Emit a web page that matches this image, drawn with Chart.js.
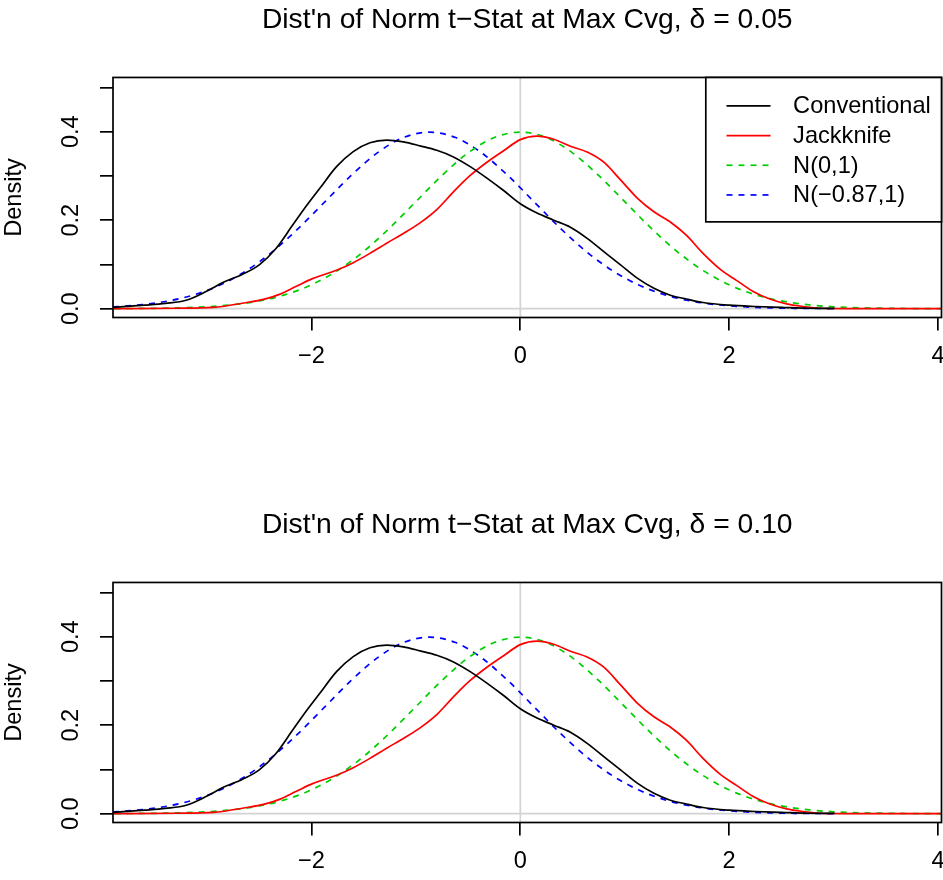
<!DOCTYPE html>
<html>
<head>
<meta charset="utf-8">
<script src="https://cdn.jsdelivr.net/npm/chart.js@4.4.1/dist/chart.umd.min.js"></script>
<style>
  html, body { margin: 0; padding: 0; background: #fff; overflow: hidden; }
  #wrap { position: relative; width: 943px; height: 880px; overflow: hidden; background: #fff; }
  canvas { position: absolute; left: 0; }
</style>
</head>
<body>
<div id="wrap">
  <canvas id="c1" width="943" height="440" style="top:0px"></canvas>
  <canvas id="c2" width="943" height="440" style="top:505px"></canvas>
</div>
<script>
// ---------------- data ----------------
const panelTitles = [
  "Dist'n of Norm t\u2212Stat at Max Cvg, \u03b4 = 0.05",
  "Dist'n of Norm t\u2212Stat at Max Cvg, \u03b4 = 0.10"
];
const seriesLabels = ['Conventional', 'Jackknife', 'N(0,1)', 'N(\u22120.87,1)'];
const seriesColors = ['#000000', '#ff0000', '#00cd00', '#0000ff'];

// Conventional (black, solid)
const convX = [-3.9, -3.6, -3.4, -3.2, -3.0, -2.85, -2.66, -2.5, -2.34, -2.18, -2.05, -1.92, -1.76, -1.6, -1.44, -1.28, -1.12, -0.96, -0.8, -0.64, -0.48, -0.32, -0.16, 0.0, 0.16, 0.32, 0.48, 0.64, 0.8, 0.96, 1.12, 1.28, 1.43, 1.59, 1.75, 2.0, 2.25, 2.5, 2.75, 3.01];
const convY = [0.003, 0.008, 0.012, 0.019, 0.040, 0.059, 0.078, 0.099, 0.136, 0.189, 0.232, 0.272, 0.321, 0.355, 0.375, 0.381, 0.377, 0.368, 0.358, 0.343, 0.321, 0.295, 0.267, 0.237, 0.216, 0.200, 0.184, 0.159, 0.129, 0.099, 0.069, 0.046, 0.031, 0.022, 0.014, 0.008, 0.005, 0.003, 0.001, 0.0005];

// Jackknife (red, solid)
const jackX = [-3.95, -3.3, -2.94, -2.62, -2.46, -2.3, -2.15, -1.99, -1.76, -1.6, -1.44, -1.28, -1.12, -0.96, -0.8, -0.64, -0.48, -0.32, -0.16, 0.0, 0.16, 0.32, 0.48, 0.64, 0.8, 0.96, 1.12, 1.28, 1.43, 1.59, 1.75, 1.91, 2.07, 2.23, 2.39, 2.55, 2.71, 2.87, 3.2, 4.1];
const jackY = [0.0, 0.001, 0.003, 0.014, 0.021, 0.033, 0.050, 0.068, 0.087, 0.104, 0.125, 0.148, 0.170, 0.194, 0.224, 0.264, 0.301, 0.331, 0.357, 0.382, 0.390, 0.383, 0.367, 0.354, 0.331, 0.291, 0.250, 0.219, 0.197, 0.166, 0.125, 0.090, 0.064, 0.039, 0.022, 0.011, 0.005, 0.001, 0.0, 0.0];

// N(0,1) (green, dashed)
const n01X = [-4.0, -3.75, -3.5, -3.25, -3.0, -2.75, -2.5, -2.25, -2.0, -1.75, -1.5, -1.25, -1.0, -0.75, -0.5, -0.25, 0.0, 0.25, 0.5, 0.75, 1.0, 1.25, 1.5, 1.75, 2.0, 2.25, 2.5, 2.75, 3.0, 3.25, 3.5, 3.75, 4.0, 4.25];
const n01Y = [0.0001, 0.0004, 0.0009, 0.002, 0.0044, 0.0091, 0.0175, 0.0317, 0.054, 0.0863, 0.1295, 0.1826, 0.242, 0.3011, 0.3521, 0.3867, 0.3989, 0.3867, 0.3521, 0.3011, 0.242, 0.1826, 0.1295, 0.0863, 0.054, 0.0317, 0.0175, 0.0091, 0.0044, 0.002, 0.0009, 0.0004, 0.0001, 0.0001];

// N(-0.87,1) (blue, dashed)
const n087X = [-3.9, -3.62, -3.37, -3.12, -2.87, -2.62, -2.37, -2.12, -1.87, -1.62, -1.37, -1.12, -0.87, -0.62, -0.37, -0.12, 0.13, 0.38, 0.63, 0.88, 1.13, 1.38, 1.63, 1.88, 2.13, 2.38, 2.63, 2.88, 3.01];
const n087Y = [0.004, 0.0091, 0.0175, 0.0317, 0.054, 0.0863, 0.1295, 0.1826, 0.242, 0.3011, 0.3521, 0.3867, 0.3989, 0.3867, 0.3521, 0.3011, 0.242, 0.1826, 0.1295, 0.0863, 0.054, 0.0317, 0.0175, 0.0091, 0.0044, 0.002, 0.0009, 0.0004, 0.0002];

const xTickValues = [-2, 0, 2, 4];
const xTickLabels = ['\u22122', '0', '2', '4'];
const yTickValues = [0, 0.1, 0.2, 0.3, 0.4, 0.5];
const yTickLabels = ['0.0', '', '0.2', '', '0.4', ''];
const refVertical = [0];
const refHorizontal = [0];
const yAxisTitle = 'Density';

// ---------------- rendering ----------------
const FONT = "'Liberation Sans', Arial, Helvetica, sans-serif";
const FS = 23.6;       // axis / legend text
const FS_TITLE = 28.3; // main title
const LW = 1.7;

function zip(xs, ys) { return xs.map((x, i) => ({ x: x, y: ys[i] })); }

const seriesData = [zip(convX, convY), zip(jackX, jackY), zip(n01X, n01Y), zip(n087X, n087Y)];
const seriesDash = [[], [], [6, 6], [6, 6]];

const rPlugin = {
  id: 'rframe',
  beforeDatasetsDraw(chart) {
    const { ctx, chartArea: a, scales: { x, y } } = chart;
    ctx.save();
    ctx.strokeStyle = '#d3d3d3';
    ctx.lineWidth = LW;
    refVertical.forEach(v => {
      const px = x.getPixelForValue(v);
      ctx.beginPath(); ctx.moveTo(px, a.top); ctx.lineTo(px, a.bottom); ctx.stroke();
    });
    refHorizontal.forEach(v => {
      const py = y.getPixelForValue(v);
      ctx.beginPath(); ctx.moveTo(a.left, py); ctx.lineTo(a.right, py); ctx.stroke();
    });
    ctx.restore();
  },
  afterDraw(chart, args, opts) {
    const { ctx, chartArea: a } = chart;
    ctx.save();
    ctx.strokeStyle = '#000';
    ctx.lineWidth = LW;
    ctx.strokeRect(a.left, a.top, a.right - a.left, a.bottom - a.top);
    if (opts.legend) {
      const w = 235.7, h = 144.4;
      const lx = a.right - w, ly = a.top;
      ctx.fillStyle = '#fff';
      ctx.fillRect(lx, ly, w, h);
      ctx.strokeRect(lx, ly, w, h);
      ctx.font = FS + 'px ' + FONT;
      ctx.textBaseline = 'middle';
      ctx.textAlign = 'left';
      seriesLabels.forEach((lab, i) => {
        const yy = ly + 28.4 + i * 29.7;
        ctx.strokeStyle = seriesColors[i];
        ctx.setLineDash(seriesDash[i]);
        ctx.beginPath(); ctx.moveTo(lx + 20.7, yy); ctx.lineTo(lx + 64.7, yy); ctx.stroke();
        ctx.setLineDash([]);
        ctx.fillStyle = '#000';
        ctx.fillText(lab, lx + 87.3, yy + 1);
      });
    }
    ctx.restore();
  }
};

function makeChart(id, title, showLegend) {
  const datasets = seriesLabels.map((lab, i) => ({
    label: lab,
    data: seriesData[i],
    borderColor: seriesColors[i],
    borderWidth: LW,
    borderDash: seriesDash[i],
    pointRadius: 0,
    fill: false,
    cubicInterpolationMode: 'monotone'
  }));
  return new Chart(document.getElementById(id), {
    type: 'line',
    data: { datasets: datasets },
    plugins: [rPlugin],
    options: {
      responsive: false,
      animation: false,
      devicePixelRatio: 1,
      events: [],
      layout: { padding: { left: 0, right: 1.5, top: 0, bottom: 0 }, autoPadding: false },
      plugins: {
        legend: { display: false },
        tooltip: { enabled: false },
        title: {
          display: true,
          text: title,
          fullSize: false,
          color: '#000',
          font: { family: FONT, size: FS_TITLE, weight: 'normal' },
          padding: { top: 3.5, bottom: 40 }
        },
        rframe: { legend: showLegend }
      },
      scales: {
        x: {
          type: 'linear',
          min: -3.901,
          max: 4.034,
          afterBuildTicks: s => { s.ticks = xTickValues.map(v => ({ value: v })); },
          afterFit: s => { s.height = 122.5; s.paddingLeft = 0; s.paddingRight = 0; },
          border: { display: false },
          grid: { drawOnChartArea: false, drawTicks: true, tickLength: 13, color: '#000', lineWidth: LW },
          ticks: {
            autoSkip: false,
            maxRotation: 0,
            minRotation: 0,
            padding: 12,
            color: '#000',
            font: { family: FONT, size: FS },
            callback: v => { const k = xTickValues.indexOf(v); return k >= 0 ? xTickLabels[k] : ''; }
          }
        },
        y: {
          type: 'linear',
          min: -0.0199,
          max: 0.5225,
          afterBuildTicks: s => { s.ticks = yTickValues.map(v => ({ value: v })); },
          afterFit: s => { s.width = 113; s.paddingTop = 0; s.paddingBottom = 0; },
          border: { display: false },
          grid: { drawOnChartArea: false, drawTicks: true, tickLength: 13, color: '#000', lineWidth: LW },
          title: {
            display: true,
            text: yAxisTitle,
            color: '#000',
            font: { family: FONT, size: FS },
            padding: { top: 0, bottom: 0 }
          },
          ticks: {
            autoSkip: false,
            minRotation: 90,
            maxRotation: 90,
            crossAlign: 'center',
            padding: 12.5,
            color: '#000',
            font: { family: FONT, size: FS },
            callback: (v, i) => { const k = yTickValues.findIndex(t => Math.abs(t - v) < 1e-9); return k >= 0 ? yTickLabels[k] : ''; }
          }
        }
      }
    }
  });
}

makeChart('c1', panelTitles[0], true);
makeChart('c2', panelTitles[1], false);
</script>
</body>
</html>
